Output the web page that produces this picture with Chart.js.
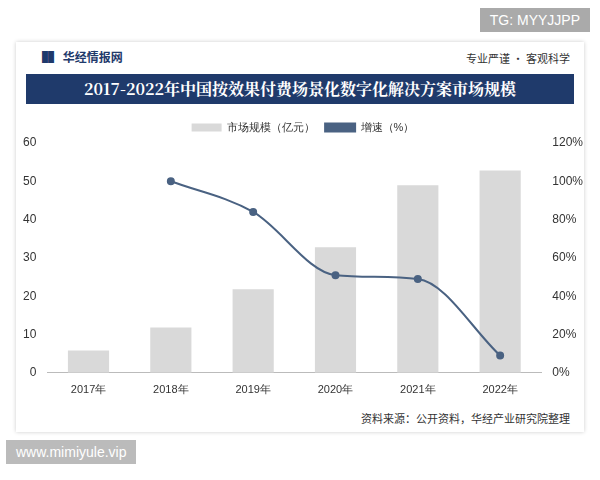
<!DOCTYPE html>
<html><head><meta charset="utf-8">
<script src="https://cdn.jsdelivr.net/npm/chart.js@4"></script>
<style>
body{margin:0;width:600px;height:480px;background:#fff;font-family:"Noto Sans CJK SC",sans-serif;position:relative;overflow:hidden}
#card{position:absolute;left:16px;top:42px;width:568px;height:390px;background:#fff;box-shadow:0 0 4px #ccc}
#hdr{position:absolute;left:20px;top:6px;font-size:12px;color:#1f3a6b;font-weight:bold}
#hdr2{position:absolute;right:14px;top:8px;font-size:11px;color:#333}
#title{position:absolute;left:10px;top:32px;width:548px;height:30px;background:#1f3a6b;color:#fff;font-weight:bold;font-size:16px;text-align:center;line-height:30px;font-family:"Noto Serif CJK SC","Noto Sans CJK SC",serif}
#src{position:absolute;right:14px;top:368px;font-size:11px;color:#333}
#tg{position:absolute;right:10px;top:8px;background:#aaa;color:#fff;font-size:14px;padding:4px 10px;font-family:Arial}
#url{position:absolute;left:6px;top:440px;background:#bbb;color:#fff;font-size:14px;padding:4px 10px;font-family:Arial}
#wrap{position:absolute;left:20px;top:112px;width:566px;height:288px}
</style></head><body>
<div id="card">
<div id="hdr">▐▌ 华经情报网</div>
<div id="hdr2">专业严谨 • 客观科学</div>
<div id="title">2017-2022年中国按效果付费场景化数字化解决方案市场规模</div>
<div id="src">资料来源：公开资料，华经产业研究院整理</div>
</div>
<div id="wrap"><canvas id="c"></canvas></div>
<div id="tg">TG: MYYJJPP</div>
<div id="url">www.mimiyule.vip</div>
<script>
const categories=["2017年","2018年","2019年","2020年","2021年","2022年"];
const marketSize=[5.8,11.8,21.8,32.8,49,52.8];
const growth=[null,100,84,51,49,9];
new Chart(document.getElementById('c'),{
 data:{labels:categories,datasets:[
  {type:'bar',label:'市场规模（亿元）',data:marketSize,backgroundColor:'#d9d9d9',yAxisID:'y',barPercentage:0.5,categoryPercentage:1,order:2},
  {type:'line',label:'增速（%）',data:growth,borderColor:'#4a6282',backgroundColor:'#4a6282',yAxisID:'y1',cubicInterpolationMode:'monotone',pointRadius:3,borderWidth:2,order:1}
 ]},
 options:{responsive:true,maintainAspectRatio:false,animation:false,
  plugins:{legend:{labels:{boxWidth:30,boxHeight:8,font:{size:11},color:'#333',sort:(a,b)=>a.datasetIndex-b.datasetIndex}}},
  scales:{
   x:{grid:{display:false},ticks:{color:'#333',font:{size:11}},border:{color:'#bbb'}},
   y:{min:0,max:60,ticks:{stepSize:10,color:'#333'},grid:{display:false},border:{display:false}},
   y1:{position:'right',min:0,max:120,ticks:{stepSize:20,callback:v=>v+'%',color:'#333'},grid:{display:false},border:{display:false}}
  }}
});
</script></body></html>
